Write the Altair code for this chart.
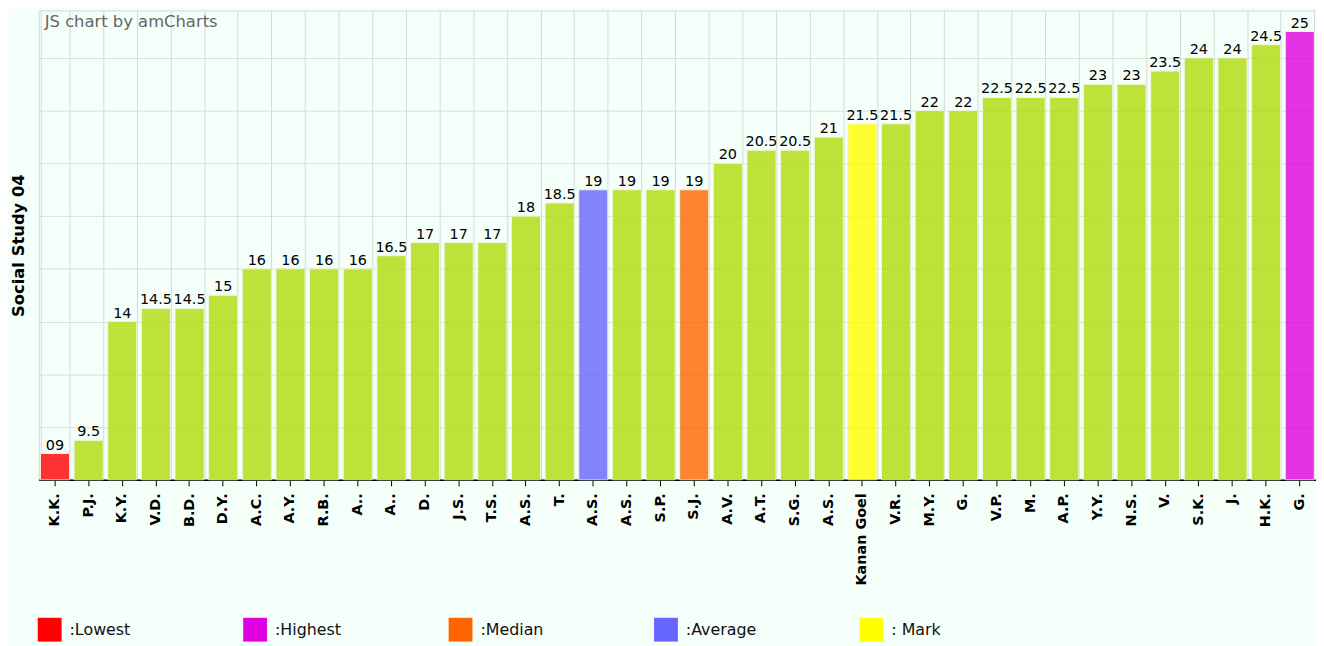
import json
import altair as alt
import pandas as pd

names = ["K.K.", "P.J.", "K.Y.", "V.D.", "B.D.", "D.Y.", "A.C.", "A.Y.", "R.B.", "A..",
         "A..", "D.", "J.S.", "T.S.", "A.S.", "T.", "A.S.", "A.S.", "S.P.", "S.J.",
         "A.V.", "A.T.", "S.G.", "A.S.", "Kanan Goel", "V.R.", "M.Y.", "G.", "V.P.", "M.",
         "A.P.", "Y.Y.", "N.S.", "V.", "S.K.", "J.", "H.K.", "G."]
values = [9, 9.5, 14, 14.5, 14.5, 15, 16, 16, 16, 16,
          16.5, 17, 17, 17, 18, 18.5, 19, 19, 19, 19,
          20, 20.5, 20.5, 21, 21.5, 21.5, 22, 22, 22.5, 22.5,
          22.5, 23, 23, 23.5, 24, 24, 24.5, 25]
value_labels = ["09", "9.5", "14", "14.5", "14.5", "15", "16", "16", "16", "16",
                "16.5", "17", "17", "17", "18", "18.5", "19", "19", "19", "19",
                "20", "20.5", "20.5", "21", "21.5", "21.5", "22", "22", "22.5", "22.5",
                "22.5", "23", "23", "23.5", "24", "24", "24.5", "25"]
kinds = ["Lowest"] + ["Other"] * 15 + ["Average"] + ["Other"] * 2 + ["Median"] + \
        ["Other"] * 4 + ["Mark"] + ["Other"] * 12 + ["Highest"]

legend_keys = ["Lowest", "Highest", "Median", "Average", "Mark"]
legend_text = [":Lowest", ":Highest", ":Median", ":Average", ": Mark"]
color_domain = ["Lowest", "Highest", "Median", "Average", "Mark", "Other"]
color_range = ["#ff0000", "#e000e0", "#ff6600", "#6666ff", "#ffff00", "#b0dc0b"]
y_grid = [8, 10, 12, 14, 16, 18, 20, 22, 24]
y_min = 8

df = pd.DataFrame({
    "idx": list(range(len(names))),
    "name": names,
    "value": values,
    "vlabel": value_labels,
    "kind": kinds,
    "base": [y_min] * len(names),
})

FONT = "DejaVu Sans"
names_js = json.dumps(names)
legend_map_js = json.dumps(dict(zip(legend_keys, legend_text)))

x_scale = alt.Scale(paddingInner=0.136, paddingOuter=0.05)
y_scale = alt.Scale(domain=[y_min, 25.8], nice=False, zero=False)

y_axis = alt.Axis(title="Social Study 04", values=y_grid, labels=False, ticks=False,
                  domain=False, grid=True, gridColor="#d7dfda", gridWidth=1,
                  titleFont=FONT, titleFontSize=16.5, titleFontWeight="bold",
                  titleColor="#000000", titlePadding=12)

base = alt.Chart(df)

bars = base.mark_bar(opacity=0.8, stroke="#f4f4dc", strokeWidth=1).encode(
    x=alt.X("idx:O", scale=x_scale, sort="ascending",
            axis=alt.Axis(title=None, orient="bottom", labelAngle=-90,
                          labelExpr=f"{names_js}[datum.value]",
                          labelFont=FONT, labelFontSize=14.5, labelFontWeight="bold",
                          labelColor="#000000", labelPadding=7, labelBaseline="middle",
                          labelAlign="right",
                          tickColor="#000000", tickSize=6, tickWidth=1,
                          domainColor="#000000", domainWidth=1.5, grid=False)),
    y=alt.Y("value:Q", scale=y_scale, axis=y_axis),
    y2=alt.Y2("base:Q"),
    color=alt.Color("kind:N", scale=alt.Scale(domain=color_domain, range=color_range),
                    legend=alt.Legend(values=legend_keys, title=None, orient="none",
                                      legendX=-1, legendY=612, direction="horizontal",
                                      columns=5, gridAlign="all", columnPadding=103,
                                      symbolType="square", symbolSize=576,
                                      symbolStrokeWidth=0, symbolOpacity=1,
                                      labelExpr=f"{legend_map_js}[datum.value]",
                                      labelFont=FONT, labelFontSize=16,
                                      labelColor="#111111", labelOffset=8, labelLimit=200)),
)

grid_x = base.mark_bar(opacity=0).encode(
    x=alt.X("idx:O", scale=x_scale,
            axis=alt.Axis(title=None, orient="bottom", labels=False, ticks=False,
                          domain=False, grid=True, tickBand="extent",
                          gridColor="#d2dad5", gridWidth=1)),
    y=alt.Y("value:Q", scale=y_scale, axis=y_axis),
    y2=alt.Y2("base:Q"),
)

texts = base.mark_text(baseline="alphabetic", dy=-4, font=FONT, fontSize=14.5,
                       color="#000000").encode(
    x=alt.X("idx:O", scale=x_scale, axis=None),
    y=alt.Y("value:Q", scale=y_scale, axis=y_axis),
    text="vlabel:N",
)

credit = alt.Chart(pd.DataFrame({"t": ["JS chart by amCharts"]})).mark_text(
    align="left", baseline="alphabetic", font=FONT, fontSize=16.5, color="#666666"
).encode(x=alt.value(6), y=alt.value(17), text="t:N")

chart = alt.layer(grid_x, bars, texts, credit).resolve_axis(x="independent").properties(
    width=1287, height=473, background="#f5fffa",
    padding={"left": 3, "top": 0, "right": 0, "bottom": 5},
).configure_view(stroke="#d2dad5", strokeWidth=1)

chart.save("out.html", embed_options={"renderer": "svg", "actions": False})
